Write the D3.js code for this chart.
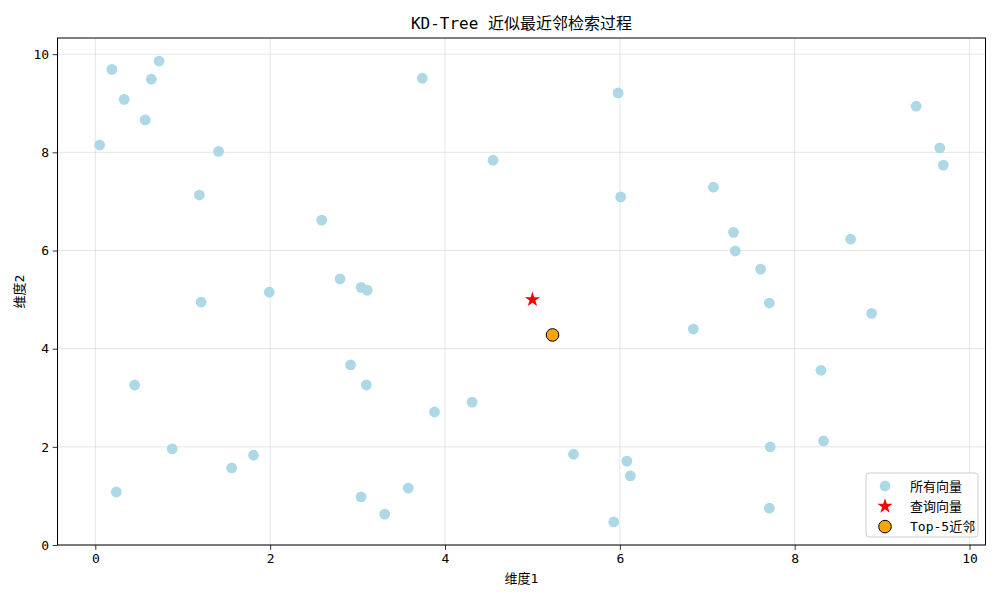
<!DOCTYPE html>
<html>
<head>
<meta charset="utf-8">
<script src="https://cdn.jsdelivr.net/npm/d3@7"></script>
<style>
  body { margin: 0; background: #fff; }
  text { font-family: "DejaVu Sans Mono", "Noto Sans CJK SC", monospace; }
</style>
</head>
<body>
<div id="chart"></div>
<script>
// all vectors
const vecX = [0.05, 0.19, 0.33, 0.57, 0.64, 0.73, 1.41, 1.19, 1.21, 0.45,
              0.88, 0.24, 1.56, 1.81, 1.99, 2.59, 2.80, 3.04, 3.11, 2.92,
              3.10, 3.04, 3.31, 3.58, 3.88, 4.31, 3.74, 4.55, 5.98, 6.01,
              5.47, 6.08, 6.12, 5.93, 6.84, 7.07, 7.30, 7.32, 7.61, 7.71,
              8.30, 8.33, 7.72, 7.71, 8.64, 8.88, 9.39, 9.66, 9.70, 5.23]
const vecY = [8.15, 9.69, 9.08, 8.66, 9.49, 9.86, 8.02, 7.13, 4.95, 3.26,
              1.96, 1.08, 1.57, 1.83, 5.15, 6.62, 5.42, 5.25, 5.19, 3.67,
              3.26, 0.98, 0.63, 1.16, 2.71, 2.91, 9.51, 7.84, 9.21, 7.09,
              1.85, 1.71, 1.41, 0.47, 4.40, 7.29, 6.37, 5.99, 5.62, 4.93,
              3.56, 2.12, 2.00, 0.75, 6.23, 4.72, 8.94, 8.09, 7.74, 4.28]
const queryX = [5.0]
const queryY = [5.0]
const nearX = [5.23]
const nearY = [4.28]

const xTicks = [0, 2, 4, 6, 8, 10]
const yTicks = [0, 2, 4, 6, 8, 10]
const legendLabels = ["所有向量", "查询向量", "Top-5近邻"]

const width = 1000, height = 600
const margin = {top: 38, right: 14.5, bottom: 55, left: 57.5}

const svg = d3.select("#chart").append("svg")
    .attr("width", width)
    .attr("height", height)

// matplotlib-like 5% margins
const allX = vecX.concat(queryX, nearX), allY = vecY.concat(queryY, nearY)
const xr = d3.extent(allX), yr = d3.extent(allY)
const xPad = (xr[1] - xr[0]) * 0.05, yPad = (yr[1] - yr[0]) * 0.05

const x = d3.scaleLinear()
    .domain([xr[0] - xPad, xr[1] + xPad])
    .range([margin.left, width - margin.right])
const y = d3.scaleLinear()
    .domain([yr[0] - yPad, yr[1] + yPad])
    .range([height - margin.bottom, margin.top])

// grid
svg.append("g")
    .selectAll("line")
    .data(xTicks)
    .enter().append("line")
    .attr("x1", d => x(d)).attr("x2", d => x(d))
    .attr("y1", margin.top).attr("y2", height - margin.bottom)
    .attr("stroke", "#b0b0b0").attr("stroke-opacity", 0.4).attr("stroke-width", 0.8)
svg.append("g")
    .selectAll("line")
    .data(yTicks)
    .enter().append("line")
    .attr("y1", d => y(d)).attr("y2", d => y(d))
    .attr("x1", margin.left).attr("x2", width - margin.right)
    .attr("stroke", "#b0b0b0").attr("stroke-opacity", 0.4).attr("stroke-width", 0.8)

// all vectors
svg.append("g")
    .selectAll("circle")
    .data(vecX)
    .enter().append("circle")
    .attr("cx", d => x(d))
    .attr("cy", (d, i) => y(vecY[i]))
    .attr("r", 5.4)
    .attr("fill", "#add8e6")

// query
const starSize = 64 / 0.8908130915292852
svg.append("g")
    .selectAll("path")
    .data(queryX)
    .enter().append("path")
    .attr("d", d3.symbol(d3.symbolStar, starSize))
    .attr("transform", (d, i) => `translate(${x(d)},${y(queryY[i])})`)
    .attr("fill", "red")

// nearest neighbours
svg.append("g")
    .selectAll("circle")
    .data(nearX)
    .enter().append("circle")
    .attr("cx", d => x(d))
    .attr("cy", (d, i) => y(nearY[i]))
    .attr("r", 6.3)
    .attr("fill", "orange")
    .attr("stroke", "black")
    .attr("stroke-width", 1)

// axes
const xAxis = svg.append("g")
    .attr("transform", `translate(0,${height - margin.bottom})`)
    .call(d3.axisBottom(x).tickValues(xTicks).tickSize(4.9).tickPadding(3.5).tickFormat(d3.format("d")))
const yAxis = svg.append("g")
    .attr("transform", `translate(${margin.left},0)`)
    .call(d3.axisLeft(y).tickValues(yTicks).tickSize(4.9).tickPadding(3.5).tickFormat(d3.format("d")))
xAxis.select(".domain").remove()
yAxis.select(".domain").remove()
svg.selectAll(".tick text").attr("font-size", 13).attr("fill", "#000")
    .style("font-family", '"DejaVu Sans Mono", "Noto Sans CJK SC", monospace')
svg.selectAll(".tick line").attr("stroke", "#000").attr("stroke-width", 0.8)

// frame
svg.append("rect")
    .attr("x", margin.left).attr("y", margin.top)
    .attr("width", width - margin.left - margin.right)
    .attr("height", height - margin.top - margin.bottom)
    .attr("fill", "none").attr("stroke", "#000").attr("stroke-width", 1)

// title and labels
svg.append("text")
    .attr("x", (margin.left + width - margin.right) / 2)
    .attr("y", 29)
    .attr("text-anchor", "middle")
    .attr("font-size", 16)
    .text("KD-Tree 近似最近邻检索过程")
svg.append("text")
    .attr("x", (margin.left + width - margin.right) / 2)
    .attr("y", 583)
    .attr("text-anchor", "middle")
    .attr("font-size", 13)
    .text("维度1")
svg.append("text")
    .attr("transform", `translate(24,${(margin.top + height - margin.bottom) / 2}) rotate(-90)`)
    .attr("text-anchor", "middle")
    .attr("font-size", 13)
    .text("维度2")

// legend
const lg = svg.append("g").attr("transform", "translate(866,473)")
lg.append("rect")
    .attr("width", 112).attr("height", 64).attr("rx", 3)
    .attr("fill", "#fff").attr("fill-opacity", 0.8)
    .attr("stroke", "#cccccc").attr("stroke-width", 1)
const rows = lg.selectAll(".row")
    .data(legendLabels)
    .enter().append("g")
    .attr("transform", (d, i) => `translate(19,${13 + i * 20.3})`)
rows.append("text")
    .attr("x", 25).attr("y", 4.5)
    .attr("font-size", 13)
    .text(d => d)
rows.filter((d, i) => i === 0).append("circle").attr("r", 5.4).attr("fill", "#add8e6")
rows.filter((d, i) => i === 1).append("path")
    .attr("d", d3.symbol(d3.symbolStar, starSize)).attr("fill", "red")
rows.filter((d, i) => i === 2).append("circle").attr("r", 6.3)
    .attr("fill", "orange").attr("stroke", "black").attr("stroke-width", 1)
</script>
</body>
</html>
